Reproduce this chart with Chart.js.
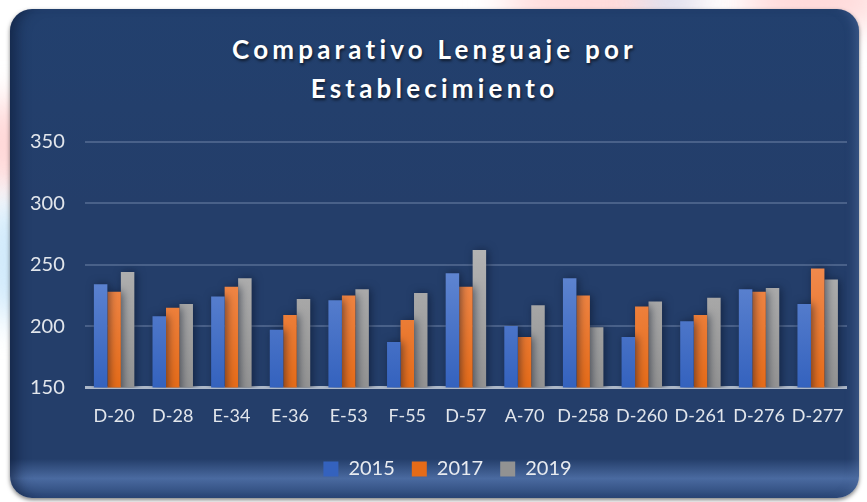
<!DOCTYPE html>
<html>
<head>
<meta charset="utf-8">
<script src="https://cdn.jsdelivr.net/npm/chart.js@4"></script>
<style>
  html, body { margin: 0; padding: 0; }
  body {
    width: 867px; height: 502px; overflow: hidden; position: relative;
    background: #fff;
  }
  .blob { position: absolute; border-radius: 50%; filter: blur(18px); }
  .panel {
    position: absolute; left: 10px; top: 9px; width: 849px; height: 489px;
    border-radius: 22px;
    background: linear-gradient(#22406e 0%, #243e6a 40%, #243e6a 92%, #4a6aa0 96%, #2a4676 100%);
    box-shadow: inset 14px 0 14px -8px rgba(10, 20, 45, 0.55), inset -10px 0 10px -6px rgba(80, 110, 160, 0.5), 0 2px 4px rgba(0,0,0,0.5);
    overflow: hidden;
  }
  .title {
    position: absolute; left: 0; right: 0; top: 21px;
    text-align: center; color: #fff;
    font: bold 26px Lato, sans-serif; letter-spacing: 4.2px; line-height: 39px;
    text-shadow: 1px 2px 3px rgba(0,0,0,0.6);
  }
  canvas { position: absolute; left: 0; top: 0; }
</style>
</head>
<body>
<div class="blob" style="left:-40px;top:100px;width:120px;height:90px;background:rgba(255,190,190,0.6)"></div>
<div class="blob" style="left:-30px;top:200px;width:90px;height:120px;background:rgba(190,225,250,0.7)"></div>
<div class="blob" style="left:500px;top:-30px;width:200px;height:60px;background:rgba(255,200,200,0.7)"></div>
<div class="blob" style="left:740px;top:-30px;width:150px;height:60px;background:rgba(255,205,205,0.8)"></div>
<div class="blob" style="left:640px;top:-20px;width:60px;height:40px;background:rgba(200,225,250,0.8)"></div>
<div class="panel">
  <div class="title">Comparativo Lenguaje por<br>Establecimiento</div>
  <canvas id="chart" width="849" height="489"></canvas>
</div>
<script>
// Categories and series
const categories = ['D-20', 'D-28', 'E-34', 'E-36', 'E-53', 'F-55', 'D-57', 'A-70', 'D-258', 'D-260', 'D-261', 'D-276', 'D-277'];
const values2015 = [234, 208, 224, 197, 221, 187, 243, 200, 239, 191, 204, 230, 218];
const values2017 = [228, 215, 232, 209, 225, 205, 232, 191, 225, 216, 209, 228, 247];
const values2019 = [244, 218, 239, 222, 230, 227, 262, 217, 199, 220, 223, 231, 238];
const yTicks = [150, 200, 250, 300, 350];

// vertical gradient for each bar colour
function barGradient(top, bottom) {
    return (context) => {
        const area = context.chart.chartArea;
        if (!area) return bottom;
        const g = context.chart.ctx.createLinearGradient(0, area.top + 100, 0, area.bottom);
        g.addColorStop(0, top);
        g.addColorStop(1, bottom);
        return g;
    };
}

// soft shadow behind the bars
const barShadow = {
    id: 'barShadow',
    beforeDatasetsDraw(chart) {
        chart.ctx.save();
        chart.ctx.shadowColor = 'rgba(5, 15, 35, 0.55)';
        chart.ctx.shadowBlur = 8;
        chart.ctx.shadowOffsetX = 2;
    },
    afterDatasetsDraw(chart) {
        chart.ctx.restore();
    }
};

// legend sits a little right of the canvas centre in the original
const legendShift = {
    id: 'legendShift',
    afterLayout(chart) {
        chart.legend.left += 19;
        chart.legend.right += 19;
    }
};

const ctx = document.getElementById('chart').getContext('2d');
new Chart(ctx, {
    type: 'bar',
    data: {
        labels: categories,
        datasets: [
            { label: '2015', data: values2015, backgroundColor: barGradient('#6a8ed6', '#3462be') },
            { label: '2017', data: values2017, backgroundColor: barGradient('#f39058', '#e56b18') },
            { label: '2019', data: values2019, backgroundColor: barGradient('#b5b5b5', '#929292') }
        ]
    },
    options: {
        responsive: false,
        animation: false,
        layout: { padding: { top: 133, left: 0, right: 12, bottom: 9 } },
        datasets: {
            bar: { barPercentage: 1, categoryPercentage: 0.69 }
        },
        plugins: {
            legend: {
                position: 'bottom',
                labels: {
                    color: '#e8ebf0',
                    font: { family: 'Lato', size: 20 },
                    boxWidth: 15,
                    boxHeight: 15,
                    padding: 17,
                    useBorderRadius: false
                }
            },
            tooltip: { enabled: false }
        },
        scales: {
            x: {
                grid: { display: false },
                border: { display: false },
                afterFit: (scale) => { scale.height += 5; },
                ticks: {
                    color: '#e2e6ec',
                    font: { family: 'Lato', size: 18 },
                    padding: 10,
                    maxRotation: 0,
                    autoSkip: false
                }
            },
            y: {
                min: 150,
                max: 350,
                afterBuildTicks: (axis) => { axis.ticks = yTicks.map(v => ({ value: v })); },
                border: { display: false },
                grid: {
                    drawTicks: false,
                    color: (c) => c.tick && c.tick.value === 150 ? 'rgba(190, 198, 212, 0.9)' : 'rgba(120, 140, 175, 0.45)',
                    lineWidth: (c) => c.tick && c.tick.value === 150 ? 3 : 2
                },
                ticks: {
                    color: '#e2e6ec',
                    font: { family: 'Lato', size: 20 },
                    padding: 20
                }
            }
        }
    },
    plugins: [barShadow, legendShift]
});
</script>
</body>
</html>
